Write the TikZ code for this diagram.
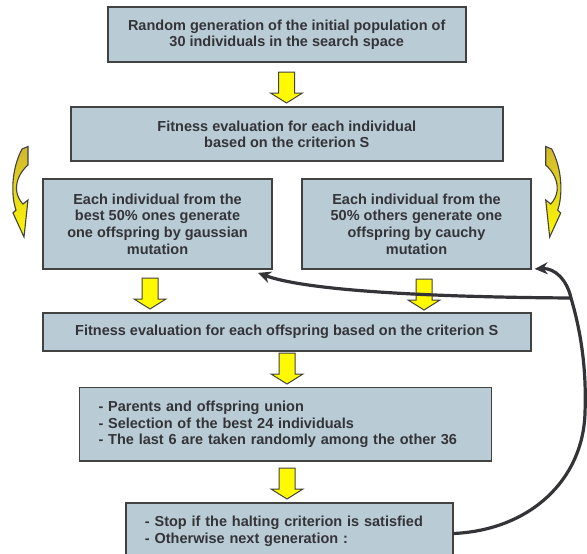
\documentclass[tikz,border=0pt]{standalone}
\usepackage{fontspec}
\setmainfont{Liberation Sans}
\definecolor{BoxBlue}{RGB}{185, 204, 214}
\definecolor{EdgeGray}{RGB}{66, 66, 66}
\definecolor{InkGray}{RGB}{52, 52, 56}
\definecolor{ArrowYellow}{RGB}{255, 250, 0}
\definecolor{OliveGold}{RGB}{208, 182, 48}
\usepackage{tikz}
\usetikzlibrary{arrows.meta}
\tikzset{
  stagebox/.style={draw=EdgeGray, line width=1.8pt, fill=BoxBlue, text=InkGray,
    font=\fontsize{14.5}{16.7}\selectfont\bfseries, align=center, inner sep=0pt},
  listbox/.style={stagebox, align=left, inner xsep=19pt},
  blockarrow/.style={draw=EdgeGray, line width=1pt, fill=ArrowYellow},
  twistarrow/.style={draw=EdgeGray, line width=1.1pt, top color=OliveGold, bottom color=ArrowYellow},
  feedback/.style={draw=InkGray, line width=3.2pt, -{Stealth[length=13pt,width=12pt]}}
}

\begin{document}
\begin{tikzpicture}[x=1pt, y=-1pt]
      \useasboundingbox (0,0) rectangle (587,554);
      \clip (0,0) rectangle (587,554);

      \node[stagebox, minimum width=358pt, minimum height=55pt] (init) at (286.7,34.8)
        {Random generation of the initial population of\\30 individuals in the search space};
      \node[stagebox, minimum width=432pt, minimum height=54pt] (evalpop) at (286.8,134.2)
        {Fitness evaluation for each individual\\based on the criterion S};
      \node[stagebox, minimum width=229pt, minimum height=90pt] (gauss) at (157.5,224)
        {Each individual from the\\best 50\% ones generate\\one offspring by gaussian\\mutation};
      \node[stagebox, minimum width=228.5pt, minimum height=90pt] (cauchy) at (416.5,224)
        {Each individual from the\\50\% others generate one\\offspring by cauchy\\mutation};
      \node[stagebox, minimum width=488pt, minimum height=38pt] (evaloff) at (286.7,331.8)
        {Fitness evaluation for each offspring based on the criterion S};
      \node[listbox, text width=374pt, minimum height=73.5pt] (select) at (285.5,424.3)
        {- Parents and offspring union\\- Selection of the best 24 individuals\\- The last 6 are taken randomly among the other 36};
      \node[listbox, text width=288.7pt, minimum height=57pt] (halt) at (289.3,531.5)
        {- Stop if the halting criterion is satisfied\\- Otherwise next generation :};

      \foreach \xpos/\ytop in {286.5/72, 150/278, 424/279, 287/353, 287/468} {
        \path[blockarrow] (\xpos-8,\ytop) -- (\xpos+8,\ytop) -- (\xpos+8,\ytop+21) -- (\xpos+16,\ytop+21)
          -- (\xpos,\ytop+31) -- (\xpos-16,\ytop+21) -- (\xpos-8,\ytop+21) -- cycle;
      }

      \path[twistarrow] (22,149) -- (28,146.5) -- (28,165) .. controls (20,172) and (16,181) .. (16.5,190)
        .. controls (17,196) and (20,201) .. (23,204) -- (28,200) -- (24,237) -- (13,213) -- (16,210)
        .. controls (11,196) and (11,170) .. (22,149) -- cycle;
      \begin{scope}[shift={(573.7,0)}, xscale=-1]
        \path[twistarrow] (22,149) -- (28,146.5) -- (28,165) .. controls (20,172) and (16,181) .. (16.5,190)
          .. controls (17,196) and (20,201) .. (23,204) -- (28,200) -- (24,237) -- (13,213) -- (16,210)
          .. controls (11,196) and (11,170) .. (22,149) -- cycle;
      \end{scope}

      \coordinate (fork) at (571,298);
      \coordinate (bulge) at (585,413);
      \draw[feedback] ([yshift=-2pt]halt.east) .. controls (530,530) and (583,480) .. (bulge)
        .. controls (587,360) and (578,322) .. (fork)
        .. controls (567,280) and (555,268) .. ([xshift=3pt,yshift=1pt]cauchy.south east);
      \draw[feedback] (fork) .. controls (420,297) and (305,290) .. ([xshift=-15pt,yshift=-3pt]gauss.south east);
    \end{tikzpicture}
\end{document}
